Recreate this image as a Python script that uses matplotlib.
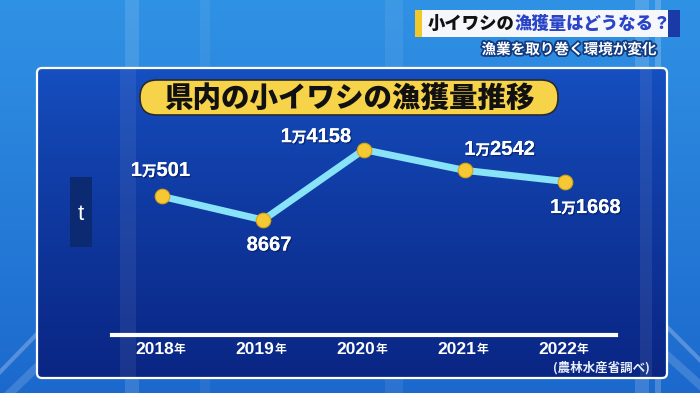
import numpy as np
import matplotlib.pyplot as plt
import matplotlib.patheffects as pe
from matplotlib.patches import FancyBboxPatch, Rectangle
from matplotlib.offsetbox import TextArea, HPacker, AnnotationBbox

plt.rcParams['font.family'] = ['Noto Sans CJK JP', 'DejaVu Sans']
NUM_FONT = ['Liberation Sans', 'Noto Sans CJK JP']

# データ (農林水産省調べ)
years = ['2018', '2019', '2020', '2021', '2022']
catch_t = [10501, 8667, 14158, 12542, 11668]
# ラベル位置 (ピクセル, 上が正)
label_offsets = [(-2, 26), (6, -25), (-48, 13), (35, 21), (20, -26)]

title = '県内の小イワシの漁獲量推移'
head_black = '小イワシの'
head_blue = '漁獲量はどうなる？'
subtitle = '漁業を取り巻く環境が変化'
source = '(農林水産省調べ)'

W, H = 700, 393
fig = plt.figure(figsize=(7, 3.93), dpi=100)

# 背景 (ピクセル座標)
bg = fig.add_axes([0, 0, 1, 1])
bg.set_xlim(0, W)
bg.set_ylim(H, 0)
bg.axis('off')

gy = np.linspace(0, 1, 200)[:, None]
top = np.array([48, 146, 228]) / 255
bot = np.array([28, 105, 205]) / 255
grad = top + (bot - top) * gy[..., None] * np.ones((1, 300, 1))
bg.imshow(grad, extent=(0, W, H, 0), aspect='auto', zorder=0)

# 背景の縦の光
for x0, w, a in [(125, 14, 0.12), (200, 10, 0.06), (385, 18, 0.07), (635, 14, 0.15), (655, 6, 0.2)]:
    bg.add_patch(Rectangle((x0, 0), w, H, fc='white', ec='none', alpha=a, zorder=1))
# 斜めの光
bg.plot([0, 70], [372, 300], color='white', alpha=0.25, lw=3, zorder=1)
bg.plot([10, 60], [393, 345], color='white', alpha=0.15, lw=6, zorder=1)
bg.plot([640, 700], [300, 360], color='white', alpha=0.25, lw=3, zorder=1)
bg.plot([650, 700], [340, 385], color='white', alpha=0.15, lw=6, zorder=1)

# パネル
panel = FancyBboxPatch((37, 68), 630, 310, boxstyle='round,pad=0,rounding_size=5',
                       fc='none', ec='white', lw=1.6, zorder=3)
bg.add_patch(panel)
ptop = np.array([22, 80, 194]) / 255
pbot = np.array([10, 38, 132]) / 255
pg = ptop + (pbot - ptop) * (gy ** 0.8)[..., None] * np.ones((1, 300, 1))
im = bg.imshow(pg, extent=(37, 667, 378, 68), aspect='auto', zorder=2)
im.set_clip_path(FancyBboxPatch((37, 68), 630, 310, boxstyle='round,pad=0,rounding_size=5',
                                transform=bg.transData))
for x0, w, a in [(120, 16, 0.07), (640, 12, 0.08)]:
    bg.add_patch(Rectangle((x0, 68), w, 310, fc='white', ec='none', alpha=a, zorder=2))

# タイトル
pill = FancyBboxPatch((140, 80), 418, 35, boxstyle='round,pad=0,rounding_size=17',
                      fc='#f7d34a', ec='#2a2a2a', lw=1.2, zorder=4)
bg.add_patch(pill)
bg.text(349, 98, title, ha='center', va='center', fontsize=20.5, fontweight='heavy',
        color='#111111', zorder=5)

# 右上の見出し
bg.add_patch(Rectangle((415, 10), 253, 27, fc='#f5f7fb', ec='none', zorder=4))
bg.add_patch(Rectangle((415, 10), 7, 27, fc='#f0c828', ec='none', zorder=5))
bg.add_patch(Rectangle((668, 10), 12, 27, fc='#1a3aa8', ec='none', zorder=5))
hp = HPacker(children=[TextArea(head_black, textprops=dict(color='#111111', fontsize=12.5, fontweight='heavy')),
                       TextArea(head_blue, textprops=dict(color='#2a44c8', fontsize=12.5, fontweight='heavy'))],
             align='baseline', pad=0, sep=0)
ab = AnnotationBbox(hp, (428, 24), xycoords='data', box_alignment=(0, 0.5), frameon=False, zorder=6)
bg.add_artist(ab)
bg.text(657, 49, subtitle, ha='right', va='center', fontsize=10.5, fontweight='bold', color='white',
        zorder=5, path_effects=[pe.withStroke(linewidth=2.5, foreground='#123a80')])

# 単位
bg.add_patch(Rectangle((70, 177), 22, 70, fc='#0b2a72', ec='none', zorder=4))
bg.text(81, 214, 't', ha='center', va='center', fontsize=16, color='white', zorder=5,
        family=NUM_FONT)

# 出典
bg.text(650, 368, source, ha='right', va='center', fontsize=9, fontweight='bold', color='#e8eef8', zorder=5)

# グラフ
ax = fig.add_axes([112 / W, (H - 335) / H, 503.75 / W, 205 / H])
ax.patch.set_alpha(0)
x = np.arange(len(years))
ax.set_xlim(-0.5, len(years) - 0.5)
ax.set_ylim(-310, 15690)
for s in ['top', 'left', 'right']:
    ax.spines[s].set_visible(False)
ax.spines['bottom'].set_color('white')
ax.spines['bottom'].set_linewidth(3)
ax.set_xticks([])
ax.set_yticks([])

ax.plot(x, catch_t, color='#88e2f8', lw=5, zorder=3, solid_joinstyle='round')
ax.scatter(x, catch_t, s=110, color='#f6c934', edgecolors='#d8a414', linewidths=0.8, zorder=4)

shadow = [pe.withSimplePatchShadow(offset=(1, -1), shadow_rgbFace='#061a50', alpha=0.6), pe.Normal()]
big = dict(color='white', fontsize=14.5, fontweight='bold', family=NUM_FONT, path_effects=shadow)
small = dict(color='white', fontsize=10.5, fontweight='bold', path_effects=shadow)
for i, (v, off) in enumerate(zip(catch_t, label_offsets)):
    parts = []
    if v >= 10000:
        parts.append(TextArea(str(v // 10000), textprops=big))
        parts.append(TextArea('万', textprops=small))
        rest = str(v % 10000)
    else:
        rest = str(v)
    parts.append(TextArea(rest, textprops=big))
    box = HPacker(children=parts, align='baseline', pad=0, sep=0)
    ab = AnnotationBbox(box, (x[i], v), xybox=off, xycoords='data', boxcoords='offset pixels',
                        box_alignment=(0.5, 0.5), frameon=False, zorder=6)
    ax.add_artist(ab)

for i, yr in enumerate(years):
    box = HPacker(children=[TextArea(yr, textprops=dict(color='white', fontsize=12.5, fontweight='bold', family=NUM_FONT)),
                            TextArea('年', textprops=dict(color='white', fontsize=8.5, fontweight='bold'))],
                  align='baseline', pad=0, sep=0)
    ab = AnnotationBbox(box, (x[i], 0), xybox=(-2, -14), xycoords=ax.get_xaxis_transform(),
                        boxcoords='offset pixels', box_alignment=(0.5, 0.5), frameon=False)
    ax.add_artist(ab)

fig.savefig('out.png', dpi=100)
